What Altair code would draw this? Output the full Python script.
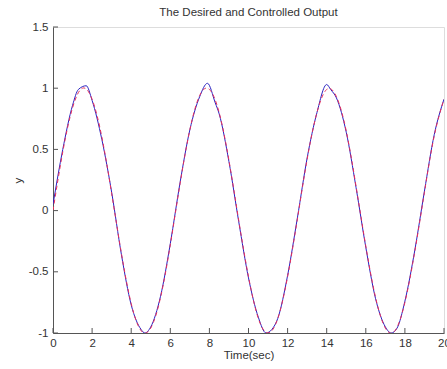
import altair as alt
import pandas as pd

# Desired trajectory (red dashed)
t_desired = [0, 0.5, 1.0, 1.5, 2.0, 2.5, 3.0, 3.5, 4.0, 4.5, 5.0, 5.5, 6.0, 6.5,
             7.0, 7.5, 8.0, 8.5, 9.0, 9.5, 10.0, 10.5, 11.0, 11.5, 12.0, 12.5,
             13.0, 13.5, 14.0, 14.5, 15.0, 15.5, 16.0, 16.5, 17.0, 17.5, 18.0,
             18.5, 19.0, 19.5, 20.0]
y_desired = [0.00, 0.48, 0.84, 1.00, 0.91, 0.60, 0.14, -0.35, -0.76, -0.98,
             -0.96, -0.71, -0.28, 0.22, 0.66, 0.94, 0.99, 0.80, 0.41, -0.08,
             -0.54, -0.88, -1.00, -0.88, -0.54, -0.07, 0.42, 0.80, 0.99, 0.93,
             0.65, 0.20, -0.29, -0.71, -0.96, -0.98, -0.75, -0.34, 0.15, 0.61,
             0.91]

# Controlled output (blue solid)
t_ctrl = [0, 0.5, 1.0, 1.3, 1.7, 2.0, 2.5, 3.0, 3.5, 4.0, 4.5, 4.7, 5.0, 5.5,
          6.0, 6.5, 7.0, 7.5, 7.9, 8.3, 8.5, 9.0, 9.5, 10.0, 10.5, 10.9, 11.2,
          11.5, 12.0, 12.5, 13.0, 13.5, 14.0, 14.2, 14.5, 15.0, 15.5, 16.0,
          16.5, 17.0, 17.3, 17.6, 18.0, 18.5, 19.0, 19.5, 20.0]
y_ctrl = [0.05, 0.50, 0.86, 0.99, 1.02, 0.90, 0.58, 0.15, -0.36, -0.77, -0.97,
          -1.00, -0.95, -0.70, -0.27, 0.23, 0.66, 0.93, 1.04, 0.88, 0.79, 0.40,
          -0.09, -0.55, -0.87, -1.00, -0.97, -0.88, -0.53, -0.06, 0.43, 0.80,
          1.03, 0.99, 0.92, 0.64, 0.19, -0.30, -0.72, -0.95, -1.00, -0.96,
          -0.74, -0.33, 0.16, 0.62, 0.91]

x_ticks = [0, 2, 4, 6, 8, 10, 12, 14, 16, 18, 20]
y_ticks = [-1, -0.5, 0, 0.5, 1, 1.5]

W, H = 391, 306
FONT = "Liberation Sans"
FS = 11.5
AXIS_COLOR = "#555555"
TEXT_COLOR = "#333333"

df_des = pd.DataFrame({"t": t_desired, "y": y_desired})
df_ctl = pd.DataFrame({"t": t_ctrl, "y": y_ctrl})
df_xt = pd.DataFrame({"t": x_ticks})
df_yt = pd.DataFrame({"y": y_ticks})

xs = alt.Scale(domain=[0, 20], nice=False, zero=False)
ys = alt.Scale(domain=[-1, 1.5], nice=False, zero=False)

x_axis = alt.Axis(values=x_ticks, title="Time(sec)", grid=False, tickSize=0,
                  labelPadding=4, domainColor=AXIS_COLOR, labelColor=TEXT_COLOR,
                  labelFont=FONT, labelFontSize=FS, titleFont=FONT,
                  titleFontSize=FS, titleFontWeight="normal", titleColor=TEXT_COLOR,
                  titlePadding=1, labelFlush=False, labelOverlap=False,
                  labelSeparation=0, labelExpr="'' + datum.value")
y_axis = alt.Axis(values=y_ticks, title="y", grid=False, tickSize=0,
                  labelPadding=5, domainColor=AXIS_COLOR, labelColor=TEXT_COLOR,
                  labelFont=FONT, labelFontSize=FS, titleFont=FONT,
                  titleFontSize=FS, titleFontWeight="normal", titleColor=TEXT_COLOR,
                  titlePadding=5, labelFlush=False, labelOverlap=False,
                  labelExpr="'' + datum.value")

controlled = alt.Chart(df_ctl).mark_line(
    color="#2a22c0", strokeWidth=1, interpolate="monotone", clip=True
).encode(
    x=alt.X("t:Q", scale=xs, axis=x_axis),
    y=alt.Y("y:Q", scale=ys, axis=y_axis),
)

desired = alt.Chart(df_des).mark_line(
    color="#e8305a", strokeWidth=1, strokeDash=[4, 3], interpolate="natural", clip=True
).encode(
    x=alt.X("t:Q", scale=xs, axis=x_axis),
    y=alt.Y("y:Q", scale=ys, axis=y_axis),
)

# Inward-pointing tick marks along the bottom and left axes
xtick_marks = alt.Chart(df_xt).mark_rule(color=AXIS_COLOR, strokeWidth=1).encode(
    x=alt.X("t:Q", scale=xs, axis=x_axis),
    y=alt.value(H),
    y2=alt.value(H - 5),
)
ytick_marks = alt.Chart(df_yt).mark_rule(color=AXIS_COLOR, strokeWidth=1).encode(
    y=alt.Y("y:Q", scale=ys, axis=y_axis),
    x=alt.value(0),
    x2=alt.value(5),
)

chart = alt.layer(controlled, desired, xtick_marks, ytick_marks).properties(
    width=W,
    height=H,
    title=alt.Title("The Desired and Controlled Output", font=FONT, fontSize=FS,
                    fontWeight="normal", color=TEXT_COLOR, anchor="middle", offset=3),
    autosize=alt.AutoSizeParams(type="none"),
    padding={"left": 53, "top": 27, "right": 3, "bottom": 36},
).configure_view(stroke=None).configure_axis(
    labelOverlap=False
).configure(background="white")

chart.save("out.html", embed_options={"renderer": "svg", "actions": False})
